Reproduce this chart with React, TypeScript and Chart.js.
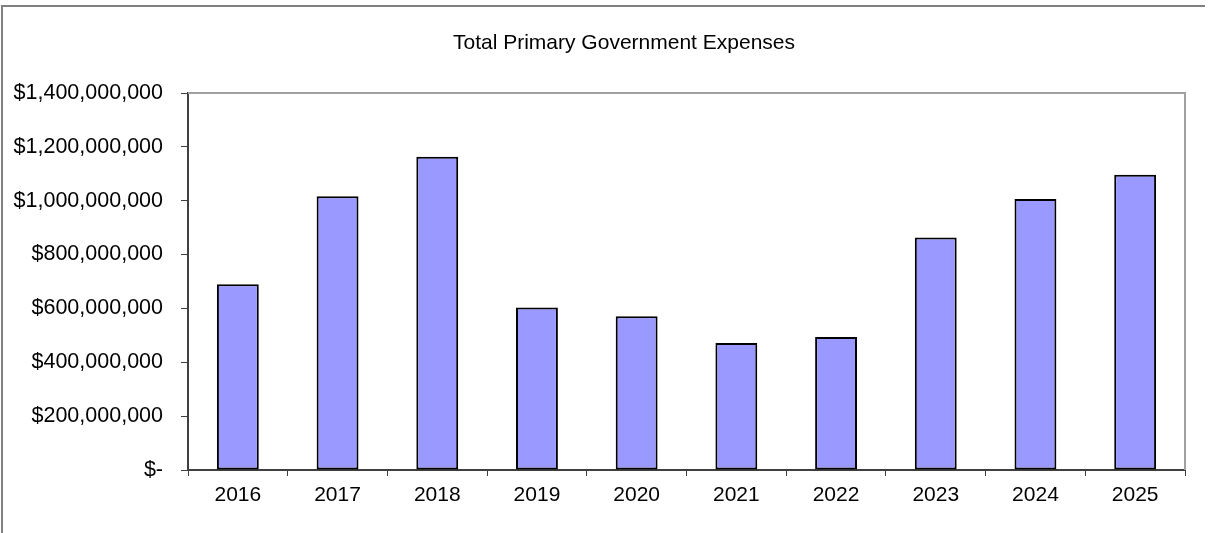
import React, { useEffect, useRef } from "react";
import { Chart, registerables } from "chart.js";

Chart.register(...registerables);

const chartTitle = "Total Primary Government Expenses";
const years = ["2016", "2017", "2018", "2019", "2020", "2021", "2022", "2023", "2024", "2025"];
const expenses = [690000000, 1017000000, 1163000000, 603000000, 571000000, 472000000, 494000000, 863000000, 1006000000, 1096000000];
const yTickValues = [0, 200000000, 400000000, 600000000, 800000000, 1000000000, 1200000000, 1400000000];

const FONT = "'Liberation Sans', Arial, sans-serif";

const framePlugin = {
  id: "frame",
  beforeDraw(chart: any) {
    const ctx = chart.ctx;
    ctx.save();
    ctx.fillStyle = "#ffffff";
    ctx.fillRect(0, 0, chart.width, chart.height);
    ctx.strokeStyle = "#808080";
    ctx.lineWidth = 2;
    ctx.beginPath();
    ctx.moveTo(2, chart.height);
    ctx.lineTo(2, 6);
    ctx.lineTo(1205, 6);
    ctx.stroke();
    ctx.restore();
  },
  afterDraw(chart: any) {
    const { ctx, chartArea } = chart;
    ctx.save();
    ctx.strokeStyle = "#a0a0a0";
    ctx.lineWidth = 2;
    ctx.beginPath();
    ctx.moveTo(chartArea.left, chartArea.top);
    ctx.lineTo(chartArea.right, chartArea.top);
    ctx.lineTo(chartArea.right, chartArea.bottom);
    ctx.stroke();
    ctx.fillStyle = "#000000";
    ctx.font = "21px " + FONT;
    ctx.textAlign = "center";
    ctx.textBaseline = "middle";
    ctx.fillText(chartTitle, 624, 43.5);
    ctx.restore();
  },
};

export default function App() {
  const canvasRef = useRef<HTMLCanvasElement | null>(null);

  useEffect(() => {
    if (!canvasRef.current) return;
    const chart = new Chart(canvasRef.current, {
      type: "bar",
      data: {
        labels: years,
        datasets: [
          {
            data: expenses,
            backgroundColor: "#9999FF",
            borderColor: "#000000",
            borderWidth: 2,
            borderSkipped: false,
            barPercentage: 0.42,
            categoryPercentage: 1,
          },
        ],
      },
      options: {
        responsive: false,
        animation: false,
        devicePixelRatio: 1,
        layout: { padding: { left: 0, right: 25, top: 93, bottom: 0 } },
        plugins: {
          legend: { display: false },
          tooltip: { enabled: false },
          title: { display: false },
        },
        scales: {
          x: {
            offset: true,
            grid: {
              offset: true,
              display: true,
              drawOnChartArea: false,
              drawTicks: true,
              tickLength: 6,
              color: "#404040",
              lineWidth: 1,
            },
            border: { display: true, color: "#404040", width: 2 },
            ticks: {
              color: "#000000",
              font: { family: FONT, size: 21 },
              padding: 7,
              maxRotation: 0,
              autoSkip: false,
            },
            afterFit(scale: any) {
              scale.height = 63;
            },
          },
          y: {
            min: 0,
            max: 1400000000,
            afterBuildTicks(scale: any) {
              scale.ticks = yTickValues.map((v) => ({ value: v }));
            },
            grid: {
              display: true,
              drawOnChartArea: false,
              drawTicks: true,
              tickLength: 7,
              color: "#404040",
              lineWidth: 1,
            },
            border: { display: true, color: "#404040", width: 2 },
            ticks: {
              color: "#000000",
              font: { family: FONT, size: 21.5 },
              padding: 18,
              callback: (v: any) =>
                Number(v) === 0 ? "$-" : "$" + Number(v).toLocaleString("en-US"),
            },
            afterFit(scale: any) {
              scale.width = 188;
            },
          },
        },
      },
      plugins: [framePlugin],
    });
    return () => chart.destroy();
  }, []);

  return (
    <div style={{ position: "fixed", left: 0, top: 0, width: 1210, height: 533, background: "#fff" }}>
      <canvas ref={canvasRef} width={1210} height={533} style={{ display: "block", width: 1210, height: 533 }} />
    </div>
  );
}
